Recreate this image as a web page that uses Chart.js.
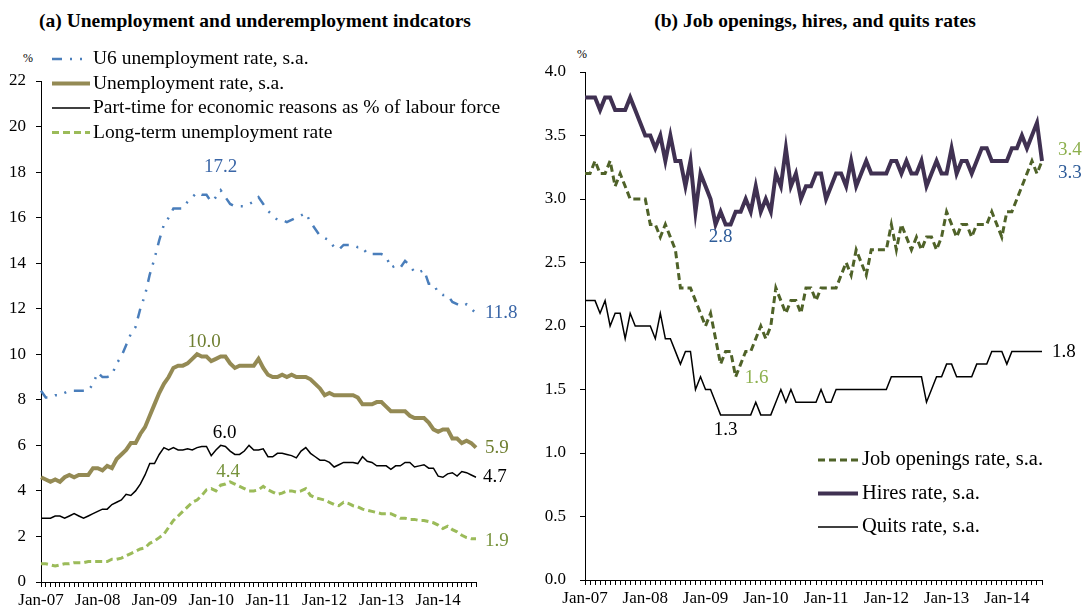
<!DOCTYPE html>
<html>
<head>
<meta charset="utf-8">
<script src="https://cdn.jsdelivr.net/npm/chart.js@4.4.1/dist/chart.umd.min.js"></script>
<style>
  body { margin: 0; background: #fff; font-family: "Liberation Serif", "Times New Roman", serif; }
  #page { position: relative; width: 1091px; height: 610px; overflow: hidden; }
  .panel { position: absolute; top: 0; }
  .title { position: absolute; top: 11px; font-weight: bold; font-size: 19.5px; line-height: 1; white-space: nowrap; transform: translateX(-50%); }
  .unit { position: absolute; font-size: 12px; line-height: 1; }
</style>
</head>
<body>
<div id="page">
  <div class="title" style="left:255px">(a) Unemployment and underemployment indcators</div>
  <div class="title" style="left:815px">(b) Job openings, hires, and quits rates</div>
  <div class="unit" style="left:23px;top:52px">%</div>
  <div class="unit" style="left:577px;top:48px">%</div>
  <canvas id="chartA" class="panel" width="545" height="610" style="left:0"></canvas>
  <canvas id="chartB" class="panel" width="546" height="610" style="left:545px"></canvas>
</div>
<script>
// categories
const monthNames = ["Jan","Feb","Mar","Apr","May","Jun","Jul","Aug","Sep","Oct","Nov","Dec"];
const years = ["07","08","09","10","11","12","13","14"];
const allMonths = [];
years.forEach(y => monthNames.forEach(m => allMonths.push(m + "-" + y)));
const monthsA = allMonths.slice(0, 93);   // Jan-07 .. Sep-14
const monthsB = allMonths.slice(0, 92);   // Jan-07 .. Aug-14

// (a) unemployment and underemployment, %
const u6Rate = [
  8.4, 8.1, 8.1, 8.2, 8.2, 8.3, 8.4, 8.4, 8.4, 8.4, 8.4, 8.7,
  9.2, 9.0, 9.0, 9.1, 9.6, 9.9, 10.4, 10.9, 11.2, 12.0, 12.6, 13.5,
  14.2, 15.0, 15.7, 16.0, 16.4, 16.4, 16.4, 16.7, 16.9, 17.1, 17.0, 17.0,
  16.7, 16.9, 17.2, 16.9, 16.6, 16.5, 16.5, 16.5, 16.6, 16.7, 16.9, 16.6,
  16.3, 16.1, 15.9, 15.9, 15.8, 15.9, 16.0, 16.1, 16.2, 15.8, 15.5, 15.2,
  15.1, 15.0, 14.7, 14.6, 14.8, 14.8, 14.8, 14.7, 14.7, 14.4, 14.4, 14.4,
  14.4, 14.3, 13.8, 13.9, 13.8, 14.1, 13.9, 13.6, 13.6, 13.7, 13.1, 13.1,
  12.7, 12.6, 12.6, 12.3, 12.2, 12.1, 12.2, 12.0, 11.8
];
const unempRate = [
  4.6, 4.5, 4.4, 4.5, 4.4, 4.6, 4.7, 4.6, 4.7, 4.7, 4.7, 5.0,
  5.0, 4.9, 5.1, 5.0, 5.4, 5.6, 5.8, 6.1, 6.1, 6.5, 6.8, 7.3,
  7.8, 8.3, 8.7, 9.0, 9.4, 9.5, 9.5, 9.6, 9.8, 10.0, 9.9, 9.9,
  9.7, 9.8, 9.9, 9.9, 9.6, 9.4, 9.5, 9.5, 9.5, 9.5, 9.8, 9.4,
  9.1, 9.0, 9.0, 9.1, 9.0, 9.1, 9.0, 9.0, 9.0, 8.9, 8.7, 8.5,
  8.2, 8.3, 8.2, 8.2, 8.2, 8.2, 8.2, 8.1, 7.8, 7.8, 7.8, 7.9,
  7.9, 7.7, 7.5, 7.5, 7.5, 7.5, 7.3, 7.2, 7.2, 7.2, 7.0, 6.7,
  6.6, 6.7, 6.7, 6.3, 6.3, 6.1, 6.2, 6.1, 5.9
];
const partTimeRate = [
  2.8, 2.8, 2.8, 2.9, 2.9, 2.8, 2.9, 3.0, 2.9, 2.8, 2.9, 3.0,
  3.1, 3.2, 3.2, 3.4, 3.5, 3.6, 3.85, 3.8, 4.0, 4.3, 4.7, 5.2,
  5.2, 5.6, 5.9, 5.8, 5.9, 5.8, 5.8, 5.85, 5.8, 5.9, 5.95, 5.95,
  5.55, 5.8, 6.0, 5.95, 5.75, 5.6, 5.6, 5.75, 6.0, 5.8, 5.8, 5.85,
  5.5, 5.5, 5.65, 5.65, 5.6, 5.55, 5.45, 5.75, 5.9, 5.65, 5.5, 5.35,
  5.35, 5.25, 5.05, 5.15, 5.25, 5.25, 5.25, 5.2, 5.5, 5.3, 5.25, 5.1,
  5.1, 5.1, 4.95, 5.1, 5.1, 5.25, 5.25, 5.05, 5.1, 5.15, 5.0, 5.0,
  4.65, 4.6, 4.75, 4.8, 4.65, 4.85, 4.8, 4.7, 4.6
];
const longTermRate = [
  0.8, 0.8, 0.75, 0.7, 0.75, 0.8, 0.8, 0.85, 0.85, 0.85, 0.9, 0.9,
  0.9, 0.9, 0.9, 1.0, 1.0, 1.05, 1.15, 1.25, 1.35, 1.45, 1.5, 1.7,
  1.8, 1.95, 2.1, 2.4, 2.7, 2.9, 3.1, 3.3, 3.5, 3.6, 3.8, 4.05,
  4.1, 4.0, 4.25, 4.3, 4.4, 4.3, 4.2, 4.1, 4.0, 4.0, 4.05, 4.2,
  4.05, 3.95, 3.85, 3.9, 4.0, 4.0, 3.95, 4.0, 4.1, 3.8, 3.7, 3.65,
  3.6, 3.5, 3.4, 3.35, 3.5, 3.45, 3.35, 3.3, 3.2, 3.15, 3.1, 3.05,
  3.0, 3.0, 3.0, 2.9, 2.8, 2.8, 2.75, 2.75, 2.7, 2.7, 2.65, 2.6,
  2.5, 2.35, 2.45, 2.3, 2.2, 2.05, 1.95, 1.9, 1.9
];

// (b) JOLTS rates, %
const jobOpeningsRate = [
  3.2, 3.2, 3.3, 3.2, 3.2, 3.3, 3.1, 3.2, 3.1, 3.0, 3.0, 3.0,
  3.0, 2.8, 2.8, 2.7, 2.8, 2.7, 2.6, 2.3, 2.3, 2.3, 2.2, 2.1,
  2.0, 2.1, 1.9, 1.7, 1.8, 1.8, 1.6, 1.7, 1.8, 1.8, 1.9, 2.0,
  1.9, 2.0, 2.3, 2.2, 2.1, 2.2, 2.2, 2.1, 2.3, 2.3, 2.2, 2.3,
  2.3, 2.3, 2.3, 2.4, 2.5, 2.4, 2.6, 2.5, 2.4, 2.6, 2.6, 2.6,
  2.6, 2.8, 2.6, 2.8, 2.7, 2.6, 2.7, 2.6, 2.7, 2.7, 2.6, 2.7,
  2.9, 2.8, 2.7, 2.8, 2.8, 2.7, 2.8, 2.8, 2.8, 2.9, 2.8, 2.7,
  2.9, 2.9, 3.0, 3.1, 3.2, 3.3, 3.2, 3.3
];
const hiresRate = [
  3.8, 3.8, 3.8, 3.7, 3.8, 3.8, 3.7, 3.7, 3.7, 3.8, 3.7, 3.6,
  3.5, 3.5, 3.4, 3.5, 3.3, 3.5, 3.3, 3.3, 3.1, 3.3, 2.9, 3.2,
  3.1, 3.0, 2.8, 2.9, 2.8, 2.8, 2.9, 2.9, 3.0, 2.9, 3.1, 2.9,
  3.0, 2.9, 3.2, 3.1, 3.4, 3.1, 3.2, 3.0, 3.1, 3.1, 3.2, 3.2,
  3.0, 3.1, 3.2, 3.2, 3.1, 3.3, 3.1, 3.2, 3.3, 3.2, 3.2, 3.2,
  3.2, 3.3, 3.3, 3.2, 3.3, 3.2, 3.2, 3.3, 3.1, 3.2, 3.3, 3.2,
  3.2, 3.4, 3.2, 3.3, 3.3, 3.2, 3.3, 3.4, 3.4, 3.3, 3.3, 3.3,
  3.3, 3.4, 3.4, 3.5, 3.4, 3.5, 3.6, 3.3
];
const quitsRate = [
  2.2, 2.2, 2.2, 2.1, 2.2, 2.0, 2.1, 2.1, 1.9, 2.1, 2.0, 2.0,
  2.0, 2.0, 1.9, 2.1, 1.9, 1.9, 1.8, 1.7, 1.8, 1.8, 1.5, 1.6,
  1.5, 1.5, 1.4, 1.3, 1.3, 1.3, 1.3, 1.3, 1.3, 1.3, 1.4, 1.3,
  1.3, 1.3, 1.4, 1.5, 1.4, 1.5, 1.4, 1.4, 1.4, 1.4, 1.4, 1.5,
  1.4, 1.4, 1.5, 1.5, 1.5, 1.5, 1.5, 1.5, 1.5, 1.5, 1.5, 1.5,
  1.5, 1.6, 1.6, 1.6, 1.6, 1.6, 1.6, 1.6, 1.4, 1.5, 1.6, 1.6,
  1.7, 1.7, 1.6, 1.6, 1.6, 1.6, 1.7, 1.7, 1.7, 1.8, 1.8, 1.8,
  1.7, 1.8, 1.8, 1.8, 1.8, 1.8, 1.8, 1.8
];

const serif = "'Liberation Serif', 'Times New Roman', serif";

// value labels next to the lines
const calloutPlugin = {
  id: "callouts",
  afterDatasetsDraw(chart, args, opts) {
    const ctx = chart.ctx;
    ctx.save();
    ctx.font = opts.size + "px " + serif;
    ctx.textBaseline = "middle";
    opts.items.forEach(it => {
      const pt = chart.getDatasetMeta(it.ds).data[it.idx];
      ctx.fillStyle = it.color;
      ctx.textAlign = it.align || "center";
      ctx.fillText(it.text, pt.x + it.dx, pt.y + it.dy);
    });
    ctx.restore();
  }
};

// legend drawn inside the plot area
const boxLegend = {
  id: "boxLegend",
  afterDraw(chart, args, opts) {
    const ctx = chart.ctx;
    ctx.save();
    ctx.font = opts.size + "px " + serif;
    ctx.textBaseline = "middle";
    ctx.textAlign = "left";
    chart.data.datasets.forEach((ds, i) => {
      const y = opts.y + i * opts.step;
      ctx.beginPath();
      ctx.strokeStyle = ds.borderColor;
      ctx.lineWidth = ds.borderWidth;
      ctx.setLineDash(ds.borderDash || []);
      ctx.moveTo(opts.x, y);
      ctx.lineTo(opts.x + opts.len, y);
      ctx.stroke();
      ctx.setLineDash([]);
      ctx.fillStyle = "#000";
      ctx.fillText(ds.label, opts.x + opts.len + opts.gap, y);
    });
    ctx.restore();
  }
};

function xAxis(height) {
  return {
    type: "category",
    offset: false,
    grid: { drawOnChartArea: false, color: "#000", tickLength: 5, lineWidth: 1 },
    border: { color: "#000", width: 1 },
    ticks: {
      autoSkip: false, maxRotation: 0, minRotation: 0, padding: 3, color: "#000",
      font: { family: serif, size: 17 },
      callback(v) { const l = this.getLabelForValue(v); return l.startsWith("Jan") ? l : ""; }
    },
    afterFit(s) { s.height = height; }
  };
}

function yAxis(max, step, width, pad, digits) {
  return {
    min: 0, max: max,
    grid: { drawOnChartArea: false, color: "#000", tickLength: 5 },
    border: { color: "#000", width: 1 },
    ticks: {
      stepSize: step, padding: pad, color: "#000",
      font: { family: serif, size: 17 },
      callback: v => v.toFixed(digits)
    },
    afterFit(s) { s.width = width; }
  };
}

new Chart(document.getElementById("chartA"), {
  type: "line",
  data: {
    labels: monthsA,
    datasets: [
      { label: "U6 unemployment rate, s.a.", data: u6Rate, borderColor: "#4A7EBB", borderWidth: 2.5, borderDash: [10, 8, 2, 8, 2, 8] },
      { label: "Unemployment rate, s.a.", data: unempRate, borderColor: "#948A54", borderWidth: 4 },
      { label: "Part-time for economic reasons as % of labour force", data: partTimeRate, borderColor: "#000000", borderWidth: 1.5 },
      { label: "Long-term unemployment rate", data: longTermRate, borderColor: "#9BBB59", borderWidth: 3, borderDash: [7, 4] }
    ]
  },
  options: {
    responsive: false, animation: false,
    layout: { padding: { top: 81, right: 69, left: 0, bottom: 0 } },
    elements: { point: { radius: 0 }, line: { tension: 0, borderCapStyle: "butt" } },
    plugins: {
      legend: { display: false }, tooltip: { enabled: false },
      boxLegend: { x: 52, y: 59, step: 24.5, len: 38, gap: 3, size: 19.5 },
      callouts: {
        size: 19,
        items: [
          { ds: 0, idx: 38, text: "17.2", color: "#3A66A7", dx: 0, dy: -23 },
          { ds: 0, idx: 92, text: "11.8", color: "#3A66A7", dx: 9, dy: 0, align: "left" },
          { ds: 1, idx: 33, text: "10.0", color: "#6F7F31", dx: 7, dy: -12 },
          { ds: 1, idx: 92, text: "5.9", color: "#6F7F31", dx: 9, dy: 0, align: "left" },
          { ds: 2, idx: 38, text: "6.0", color: "#000000", dx: 4, dy: -12 },
          { ds: 2, idx: 92, text: "4.7", color: "#000000", dx: 7, dy: 0, align: "left" },
          { ds: 3, idx: 40, text: "4.4", color: "#77933C", dx: -2, dy: -10 },
          { ds: 3, idx: 92, text: "1.9", color: "#77933C", dx: 9, dy: 2, align: "left" }
        ]
      }
    },
    scales: { x: xAxis(28), y: yAxis(22, 2, 41, 10, 0) }
  },
  plugins: [calloutPlugin, boxLegend]
});

new Chart(document.getElementById("chartB"), {
  type: "line",
  data: {
    labels: monthsB,
    datasets: [
      { label: "Job openings rate, s.a.", data: jobOpeningsRate, borderColor: "#4F6228", borderWidth: 3, borderDash: [7, 4] },
      { label: "Hires rate, s.a.", data: hiresRate, borderColor: "#403152", borderWidth: 4 },
      { label: "Quits rate, s.a.", data: quitsRate, borderColor: "#000000", borderWidth: 1.5 }
    ]
  },
  options: {
    responsive: false, animation: false,
    layout: { padding: { top: 72, right: 49, left: 0, bottom: 0 } },
    elements: { point: { radius: 0 }, line: { tension: 0, borderCapStyle: "butt" } },
    plugins: {
      legend: { display: false }, tooltip: { enabled: false },
      boxLegend: { x: 273, y: 460, step: 33.5, len: 40, gap: 4, size: 20.5 },
      callouts: {
        size: 19,
        items: [
          { ds: 1, idx: 26, text: "2.8", color: "#2E5C99", dx: 5, dy: 13 },
          { ds: 0, idx: 91, text: "3.4", color: "#8DB04E", dx: 16, dy: -11, align: "left" },
          { ds: 1, idx: 91, text: "3.3", color: "#2E5C99", dx: 16, dy: 12, align: "left" },
          { ds: 0, idx: 30, text: "1.6", color: "#8DB04E", dx: 9, dy: 1, align: "left" },
          { ds: 2, idx: 28, text: "1.3", color: "#000000", dx: 0, dy: 15 },
          { ds: 2, idx: 91, text: "1.8", color: "#000000", dx: 10, dy: 1, align: "left" }
        ]
      }
    },
    scales: { x: xAxis(30), y: yAxis(4, 0.5, 40, 14, 1) }
  },
  plugins: [calloutPlugin, boxLegend]
});
</script>
</body>
</html>
